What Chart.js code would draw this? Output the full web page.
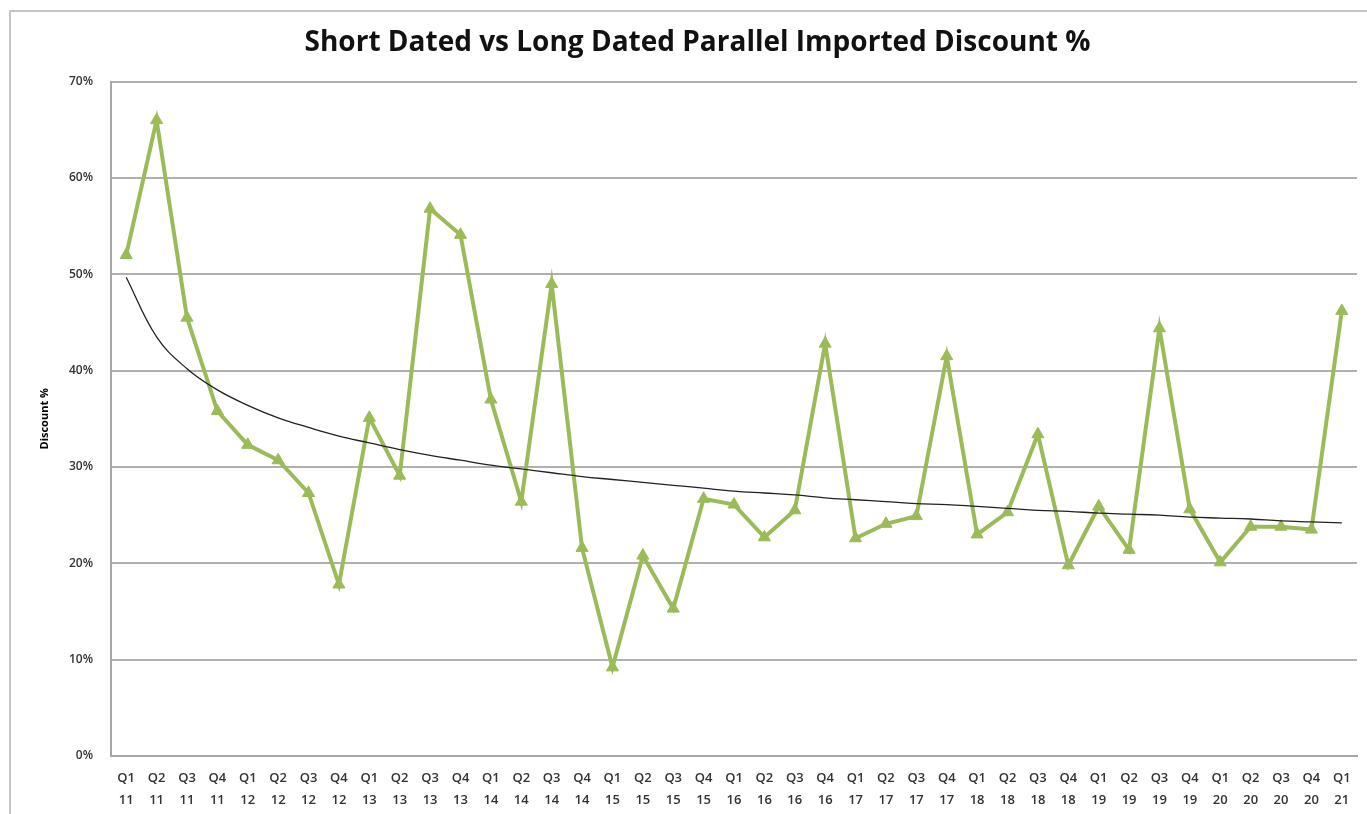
<!DOCTYPE html>
<html>
<head>
<meta charset="utf-8">
<script src="https://cdn.jsdelivr.net/npm/chart.js@4.4.1/dist/chart.umd.min.js"></script>
<style>
  html, body { margin: 0; padding: 0; background: #fff; }
  #wrap { position: relative; width: 1367px; height: 814px; }
</style>
</head>
<body>
<div id="wrap"><canvas id="grafico" width="1367" height="814"></canvas></div>
<script>
// Dados do gráfico
const trimestres = ['Q1', 'Q2', 'Q3', 'Q4'];
const anos = ['11', '12', '13', '14', '15', '16', '17', '18', '19', '20', '21'];
const rotulos = [];
anos.forEach(function(ano) {
    trimestres.forEach(function(q) {
        if (rotulos.length < 41) rotulos.push([q, ano]);
    });
});

const descontos = [
    52.0, 66.0, 45.5, 35.8, 32.3, 30.7, 27.3, 17.8,
    35.1, 29.1, 56.8, 54.1, 37.0, 26.4, 49.0, 21.6,
    9.2, 20.8, 15.3, 26.7, 26.1, 22.7, 25.5, 42.8,
    22.6, 24.1, 24.9, 41.5, 23.0, 25.3, 33.4, 19.8,
    25.9, 21.4, 44.4, 25.6, 20.1, 23.8, 23.8, 23.5,
    46.2
];

// linha de tendência
const tendencia = [
    49.7, 43.5, 40.2, 38.0, 36.4, 35.1, 34.1, 33.2,
    32.5, 31.8, 31.2, 30.7, 30.2, 29.8, 29.4, 29.0,
    28.7, 28.4, 28.1, 27.8, 27.5, 27.3, 27.1, 26.8,
    26.6, 26.4, 26.2, 26.1, 25.9, 25.7, 25.5, 25.4,
    25.2, 25.1, 25.0, 24.8, 24.7, 24.6, 24.4, 24.3,
    24.2
];

const ticksY = [0, 10, 20, 30, 40, 50, 60, 70];

// moldura externa
const moldura = {
    id: 'moldura',
    beforeDraw(chart) {
        const ctx = chart.ctx;
        ctx.save();
        ctx.strokeStyle = '#c4c4c4';
        ctx.lineWidth = 2;
        ctx.strokeRect(10, 11, 1400, 900);
        ctx.restore();
    }
};

const ctx = document.getElementById('grafico').getContext('2d');
new Chart(ctx, {
    type: 'line',
    data: {
        labels: rotulos,
        datasets: [{
            label: 'Tendência',
            data: tendencia,
            borderColor: '#222',
            borderWidth: 1.3,
            pointRadius: 0,
            tension: 0.4,
            fill: false
        }, {
            label: 'Desconto',
            data: descontos,
            borderColor: '#9bbb59',
            backgroundColor: '#9bbb59',
            borderWidth: 4,
            pointStyle: 'triangle',
            pointRadius: 7,
            pointBorderWidth: 1,
            tension: 0,
            fill: false
        }]
    },
    options: {
        responsive: false,
        animation: false,
        layout: { padding: { left: 38, right: 10, top: 0, bottom: 2 } },
        plugins: {
            legend: { display: false },
            tooltip: { enabled: false },
            title: {
                display: true,
                text: 'Short Dated vs Long Dated Parallel Imported Discount %',
                color: '#111',
                font: { family: 'Open Sans', size: 28, weight: 'bold' },
                padding: { top: 26, bottom: 22 }
            }
        },
        scales: {
            x: {
                offset: true,
                grid: { display: false, drawTicks: false },
                border: { display: true, color: '#a6a6a6', width: 2 },
                ticks: {
                    color: '#333',
                    maxRotation: 0,
                    autoSkip: false,
                    padding: 11,
                    font: { family: 'Open Sans', size: 13, weight: '600', lineHeight: 1.7 }
                },
                afterFit(escala) { escala.height = 56; }
            },
            y: {
                min: 0,
                max: 70,
                afterBuildTicks(escala) {
                    escala.ticks = ticksY.map(function(v) { return { value: v }; });
                },
                grid: { color: '#b0b0b0', lineWidth: 2, drawTicks: false },
                border: { display: true, color: '#a6a6a6', width: 2 },
                ticks: {
                    color: '#333',
                    padding: 18,
                    font: { family: 'Open Sans', size: 12, weight: '600' },
                    callback: function(v) { return v + '%'; }
                },
                title: {
                    display: true,
                    text: 'Discount %',
                    color: '#000',
                    font: { family: 'Open Sans', size: 11, weight: 'bold' },
                    padding: { top: 0, bottom: 0 }
                },
                afterFit(escala) { escala.width = 73; }
            }
        }
    },
    plugins: [moldura]
});
</script>
</body>
</html>
